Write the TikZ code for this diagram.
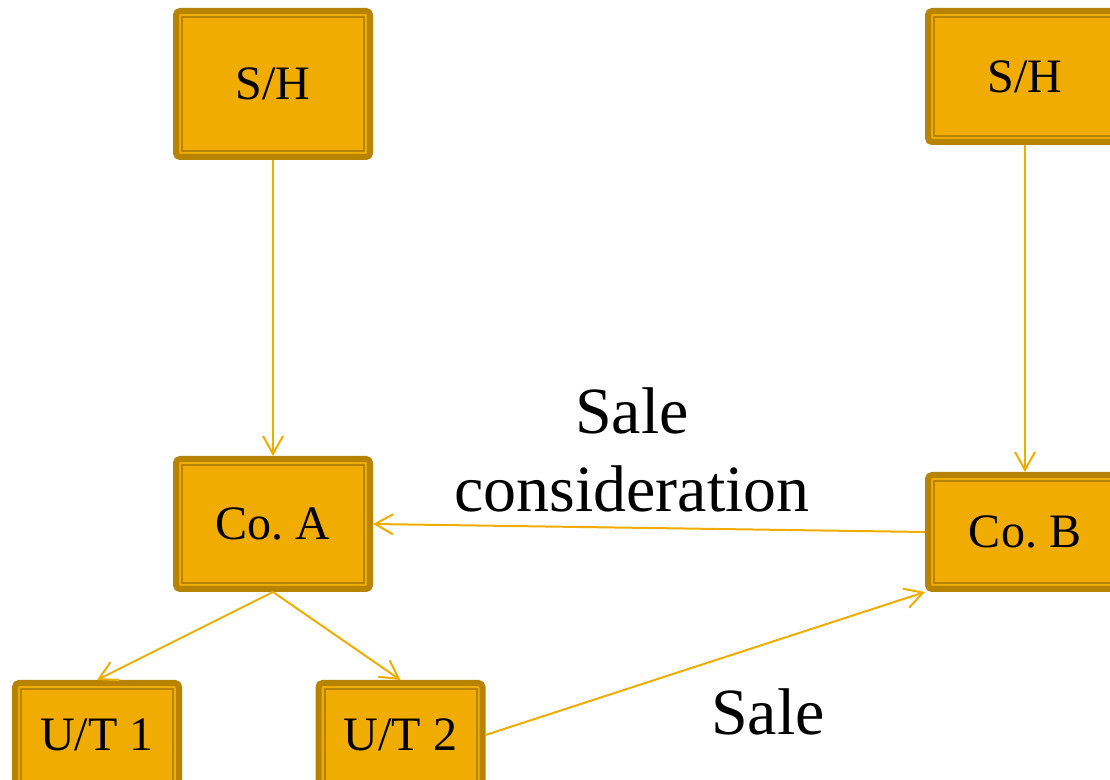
\documentclass[tikz,border=0pt]{standalone}
\usepackage{fontspec}
\setmainfont{Liberation Serif}
\usetikzlibrary{arrows.meta}
\definecolor{boxgold}{RGB}{240, 172, 0}
\definecolor{darkgold}{RGB}{184, 132, 0}
\frenchspacing

\tikzset{
  entity/.style={draw=darkgold, fill=boxgold, line width=3pt, rounded corners=2pt,
    font=\fontsize{24}{28}\selectfont, inner sep=0pt,
    path picture={\draw[darkgold, line width=1pt, sharp corners]
      ([shift={(3pt,-3pt)}]path picture bounding box.north west) rectangle
      ([shift={(-3pt,3pt)}]path picture bounding box.south east);}},
  flow/.style={boxgold, line width=1pt, -{Straight Barb[length=9pt, width=10pt]}},
  deal/.style={font=\fontsize{33}{39}\selectfont, align=center}
}

\begin{document}
\begin{tikzpicture}[x=0.5pt, y=-0.5pt]
        \useasboundingbox (0,0) rectangle (1110,780);
        \clip (0,0) rectangle (1110,780);
        % share holders
        \node[entity, minimum width=97pt, minimum height=73pt] (shA) at (273,84) {S/H};
        \node[entity, minimum width=97pt, minimum height=65.5pt] (shB) at (1025,76.5) {S/H};
        % companies
        \node[entity, minimum width=97pt, minimum height=65pt] (coA) at (273,524) {Co. A};
        \node[entity, minimum width=97pt, minimum height=57pt] (coB) at (1025,532) {Co. B};
        % undertakings of Co. A
        \node[entity, minimum width=82pt, minimum height=52pt] (ut1) at (97,735) {U/T 1};
        \node[entity, minimum width=82pt, minimum height=52pt] (ut2) at (400.5,735) {U/T 2};
        % holdings
        \draw[flow] (shA.south) -- (coA.north);
        \draw[flow] (shB.south) -- (coB.north);
        \draw[flow] (coA.south) -- (ut1.north);
        \draw[flow] (coA.south) -- (ut2.north);
        % sale of U/T 2 and its consideration
        \draw[flow] (ut2.east) -- (coB.south west);
        \draw[flow] (coB.west) -- (coA.east);
        \node[deal] (cons) at (632,450) {Sale\\consideration};
        \node[deal] (sale) at (768,712) {Sale};
      \end{tikzpicture}
\end{document}
